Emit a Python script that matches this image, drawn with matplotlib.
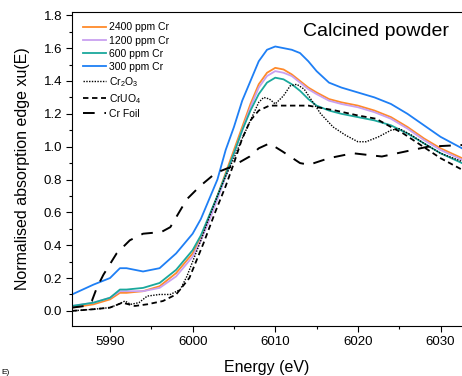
import matplotlib
matplotlib.use('Agg')
import matplotlib.pyplot as plt
from matplotlib.ticker import MultipleLocator

plt.rcParams['font.family'] = ['Liberation Sans', 'DejaVu Sans']
plt.rcParams['mathtext.default'] = 'regular'

# energy grid for the sample spectra (eV)
energy = [5985.4, 5988, 5990, 5991.2, 5992, 5994, 5996, 5998, 6000, 6001, 6002,
          6003, 6004, 6005, 6006, 6007, 6008, 6009, 6010, 6011, 6012, 6013,
          6014, 6015, 6016.5, 6018, 6020, 6022, 6024, 6026, 6028, 6030, 6032.6]

cr_2400 = [0.02, 0.04, 0.07, 0.11, 0.11, 0.12, 0.15, 0.23, 0.35, 0.45, 0.57,
           0.70, 0.84, 0.98, 1.12, 1.26, 1.38, 1.45, 1.48, 1.47, 1.44, 1.40,
           1.36, 1.33, 1.29, 1.27, 1.25, 1.22, 1.18, 1.12, 1.05, 0.99, 0.93]
cr_1200 = [0.03, 0.05, 0.08, 0.12, 0.12, 0.12, 0.14, 0.21, 0.33, 0.43, 0.55,
           0.68, 0.82, 0.96, 1.10, 1.24, 1.36, 1.43, 1.46, 1.45, 1.43, 1.39,
           1.35, 1.32, 1.28, 1.26, 1.24, 1.21, 1.17, 1.11, 1.04, 0.98, 0.92]
cr_600 = [0.03, 0.05, 0.08, 0.13, 0.13, 0.14, 0.17, 0.25, 0.37, 0.46, 0.58,
          0.70, 0.83, 0.96, 1.10, 1.22, 1.32, 1.39, 1.42, 1.41, 1.38, 1.34,
          1.29, 1.25, 1.22, 1.20, 1.18, 1.16, 1.13, 1.08, 1.02, 0.96, 0.90]
cr_300 = [0.10, 0.16, 0.20, 0.26, 0.26, 0.24, 0.26, 0.35, 0.47, 0.56, 0.68,
          0.80, 0.98, 1.12, 1.28, 1.40, 1.52, 1.59, 1.61, 1.60, 1.59, 1.57,
          1.52, 1.46, 1.39, 1.36, 1.33, 1.30, 1.26, 1.20, 1.13, 1.06, 0.99]

# reference compounds
e_cr2o3 = [5985.4, 5988, 5990, 5991, 5991.8, 5992.5, 5993.5, 5994.5, 5996, 5997.3,
           5998.5, 5999.3, 6000, 6001, 6002, 6003, 6004, 6005, 6006, 6007, 6008,
           6008.6, 6009.3, 6010, 6011, 6011.8, 6012.6, 6013.5, 6014.3, 6015.5,
           6017, 6018.5, 6020, 6021, 6022.5, 6024, 6025, 6026.5, 6028, 6030, 6032.6]
cr2o3 = [0.0, 0.01, 0.02, 0.04, 0.06, 0.04, 0.05, 0.09, 0.10, 0.10,
         0.13, 0.21, 0.30, 0.43, 0.57, 0.70, 0.82, 0.93, 1.05, 1.16, 1.27,
         1.30, 1.29, 1.26, 1.31, 1.37, 1.38, 1.35, 1.29, 1.20,
         1.12, 1.07, 1.03, 1.03, 1.06, 1.10, 1.11, 1.07, 1.02, 0.96, 0.91]

e_cruo4 = [5985.4, 5988, 5990, 5991.5, 5993, 5994.5, 5996.4, 5998, 5999.6, 6001.3,
           6002.8, 6004, 6005, 6006, 6007, 6008, 6009.3, 6011, 6014, 6017.3,
           6020, 6022.2, 6024, 6025.5, 6027, 6028.5, 6030, 6032.6]
cruo4 = [0.0, 0.01, 0.02, 0.05, 0.03, 0.04, 0.06, 0.10, 0.20, 0.41,
         0.61, 0.76, 0.90, 1.05, 1.16, 1.22, 1.25, 1.25, 1.25, 1.22,
         1.19, 1.17, 1.12, 1.08, 1.03, 0.98, 0.93, 0.86]

e_foil = [5985.4, 5987, 5987.8, 5988.4, 5989.2, 5990.8, 5992.4, 5994, 5996.2, 5997.3,
          5999.3, 6000.9, 6002.8, 6004.8, 6006.9, 6008, 6009.3, 6010.9, 6013, 6014.1,
          6016.5, 6019.4, 6022.9, 6025.7, 6028.5, 6032.6]
cr_foil = [0.02, 0.03, 0.06, 0.14, 0.22, 0.35, 0.43, 0.47, 0.48, 0.51,
           0.68, 0.76, 0.84, 0.88, 0.94, 0.99, 1.02, 0.97, 0.90, 0.89,
           0.93, 0.96, 0.94, 0.97, 1.00, 1.01]

fig = plt.figure(figsize=(4.62, 3.76), dpi=100)
ax = fig.add_axes([72 / 462, 1 - 326 / 376, 390 / 462, 314 / 376])

ax.plot(energy, cr_2400, color='#ff8a2a', lw=1.3, label='2400 ppm Cr')
ax.plot(energy, cr_1200, color='#c9a0f0', lw=1.3, label='1200 ppm Cr')
ax.plot(energy, cr_600, color='#1aa89c', lw=1.3, label='600 ppm Cr')
ax.plot(energy, cr_300, color='#1e7ff5', lw=1.3, label='300 ppm Cr')
ax.plot(e_cr2o3, cr2o3, color='black', lw=1.0, ls=(0, (1, 1)), label='Cr$_2$O$_3$')
ax.plot(e_cruo4, cruo4, color='black', lw=1.3, ls=(0, (3, 2)), label='CrUO$_4$')
ax.plot(e_foil, cr_foil, color='black', lw=1.4, ls=(0, (6, 5)), label='Cr Foil')

ax.set_xlim(5985.4, 6032.6)
ax.set_ylim(-0.092, 1.82)
ax.xaxis.set_major_locator(MultipleLocator(10))
ax.xaxis.set_minor_locator(MultipleLocator(5))
ax.yaxis.set_major_locator(MultipleLocator(0.2))
ax.yaxis.set_minor_locator(MultipleLocator(0.1))
ax.yaxis.set_major_formatter(plt.FormatStrFormatter('%.1f'))
ax.tick_params(which='major', direction='out', length=4, width=0.8, labelsize=9.5, pad=3)
ax.tick_params(which='minor', direction='out', length=2.5, width=0.8)
ax.spines['right'].set_visible(False)

ax.set_xlabel('Energy (eV)', fontsize=11.5, labelpad=9)
ax.set_ylabel('Normalised absorption edge xu(E)', fontsize=11.5, labelpad=10)

ax.text(6013.3, 1.70, 'Calcined powder', fontsize=14, va='center', ha='left')

ax.legend(loc='upper left', bbox_to_anchor=(0.01, 0.99), frameon=False,
          fontsize=7.5, handlelength=2.2, handletextpad=0.3, labelspacing=0.3,
          borderaxespad=0.3)

fig.text(0.002, 0.0, 'E)', fontsize=6, va='bottom', ha='left')

fig.savefig('out.png', dpi=100)
